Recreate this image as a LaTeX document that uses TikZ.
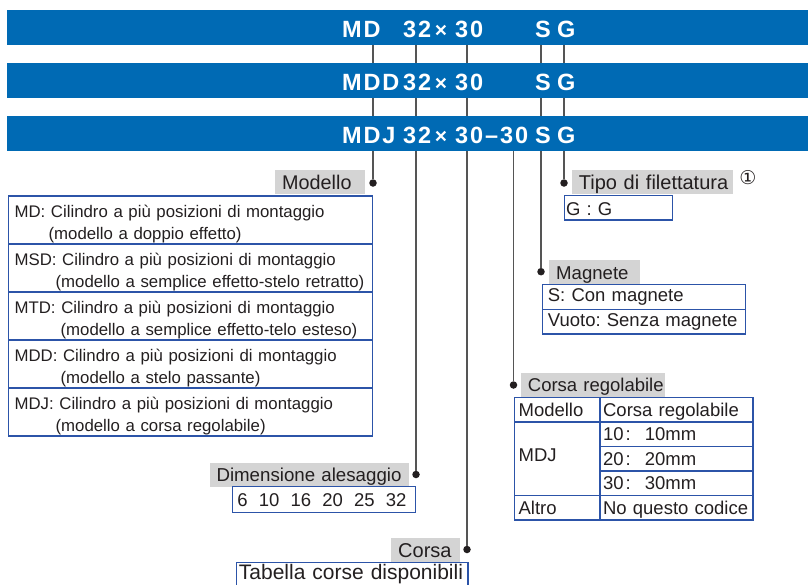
\documentclass[tikz,border=0pt]{standalone}
\usepackage{fontspec}
\setmainfont{Liberation Sans}
\newfontfamily\bandfont[LetterSpace=8]{Liberation Sans}
\newfontfamily\symfont{DejaVu Sans}
\usetikzlibrary{positioning}
\definecolor{bandblue}{RGB}{0,106,180}
\definecolor{boxblue}{RGB}{44,84,168}
\definecolor{lgray}{RGB}{212,212,212}
\definecolor{txt}{RGB}{35,31,32}
\definecolor{leadgray}{RGB}{85,85,85}
\frenchspacing

\begin{document}
\begin{tikzpicture}[x=1pt,y=-1pt]
\tikzset{band/.style={fill=bandblue,inner sep=0pt,minimum width=801pt,minimum height=35pt,anchor=north west},
code/.style={font=\bandfont\bfseries\fontsize{23.5}{23.5}\selectfont,text=white,inner sep=0pt,anchor=base west},
times/.style={font=\bfseries\fontsize{21}{21}\selectfont,text=white,inner sep=0pt,anchor=base},
dot/.style={fill=txt,circle,inner sep=0pt,minimum size=7.5pt},
lead/.style={draw=leadgray,line width=1.3pt},
lbl/.style={fill=lgray,text=txt,inner xsep=7pt,inner ysep=0pt,text height=19pt,text depth=5pt,align=left,anchor=base west,font=\fontsize{#1}{22}\selectfont},
lbl/.default=19,
cell/.style={draw=boxblue,line width=1.2pt,text=txt,inner ysep=0pt,align=left,anchor=base west,font=\fontsize{18.5}{22}\selectfont}}
\useasboundingbox (0,0) rectangle (808,584);

\node[band] (band1) at (7,10) {};
\node[band] (band2) at (7,63) {};
\node[band] (band3) at (7,116) {};

\foreach \t/\x [count=\i] in {MD/342,32/403,30/455,S/535,G/557}
\node[code] (ra\i) at (\x,37.5) {\t};
\foreach \t/\x [count=\i] in {MDD/342,32/403,30/455,S/535,G/557}
\node[code] (rb\i) at (\x,90.5) {\t};
\foreach \t/\x [count=\i] in {MDJ/342,32/403,30/455,–30/485,S/535,G/557}
\node[code] (rc\i) at (\x,143.5) {\t};
\foreach \y [count=\i] in {37.5,90.5,143.5}
\node[times] (x\i) at (441,\y) {×};

\node[dot] (dModello) at (373,183) {};
\node[dot] (dTipo) at (564,183) {};
\node[dot] (dMagnete) at (541,271.7) {};
\node[dot] (dRegola) at (513.5,385) {};
\node[dot] (dAlesaggio) at (416,474.5) {};
\node[dot] (dCorsa) at (467,549.5) {};

\foreach \d in {dModello,dAlesaggio,dCorsa,dMagnete,dTipo} {
\draw[lead] (band1.south -| \d) -- (band2.north -| \d);
\draw[lead] (band2.south -| \d) -- (band3.north -| \d); }
\foreach \d in {dModello,dAlesaggio,dCorsa,dRegola,dMagnete,dTipo}
\draw[lead] (band3.south -| \d) -- (\d);

\node[lbl=19.8,text width=76pt] (lModello) at (275,189.3) {\mbox{Modello}};
\node[lbl=20,text width=147pt] (lTipo) at (571.7,189.3) {\mbox{Tipo di filettatura}};
\node[lbl=18.6,text width=77pt] (lMagnete) at (549,279) {\mbox{Magnete}};
\node[lbl=18.5,text width=130.3pt] (lRegola) at (520.7,391.7) {\mbox{Corsa regolabile}};
\node[lbl=18.7,text width=185pt] (lAlesaggio) at (209.3,481.7) {\mbox{Dimensione alesaggio}};
\node[lbl=20,text width=55pt] (lCorsa) at (391,557.3) {\mbox{Corsa}};
\node[font=\symfont\fontsize{19}{19}\selectfont,text=txt,inner sep=0pt] (nota) at (748,177.5) {①};

\foreach \head/\tail/\ind [count=\i] in {
{MD: Cilindro a più posizioni di montaggio}/{(modello a doppio effetto)}/34,
{MSD: Cilindro a più posizioni di montaggio}/{(modello a semplice effetto-stelo retratto)}/41,
{MTD: Cilindro a più posizioni di montaggio}/{(modello a semplice effetto-telo esteso)}/46,
{MDD: Cilindro a più posizioni di montaggio}/{(modello a stelo passante)}/46,
{MDJ: Cilindro a più posizioni di montaggio}/{(modello a corsa regolabile)}/41}
\node[cell,font=\fontsize{16.8}{22}\selectfont,inner xsep=6pt,text width=351.7pt,text height=21.5pt,text depth=26.5pt] (mod\i) at (8,{217.5+48*(\i-1)}) {\mbox{\head}\\\hspace*{\ind pt}\mbox{\tail}};

\node[cell,inner xsep=1.5pt,text width=105pt,text height=19.3pt,text depth=5pt] (tipoG) at (564,215) {\mbox{G : G}};

\node[cell,inner xsep=5.6pt,text width=192pt,text height=17.4pt,text depth=7.6pt] (magS) at (541.7,301.7) {\mbox{S: Con magnete}};
\node[cell,inner xsep=5.6pt,text width=192pt,text height=17.4pt,text depth=7.3pt] (magV) at (541.7,326.7) {\mbox{Vuoto: Senza magnete}};

\node[cell,inner xsep=4pt,text width=77.3pt,text height=18.5pt,text depth=6pt] (rgHead1) at (514,416) {\mbox{Modello}};
\node[cell,inner xsep=3.2pt,text width=146.6pt,text height=18.5pt,text depth=6pt] (rgHead2) at (599.3,416) {\mbox{Corsa regolabile}};
\node[cell,inner xsep=4pt,text width=77.3pt,text height=39.7pt,text depth=33.8pt] (rgMDJ) at (514,461.7) {\mbox{MDJ}};
\foreach \v [count=\i] in {10,20,30}
\node[cell,inner xsep=3.2pt,text width=146.6pt,text height=18.5pt,text depth=6pt] (rg\v) at (599.3,{440.5+24.5*(\i-1)}) {\mbox{\v\hspace{2pt}:\hspace{14pt}\v mm}};
\node[cell,inner xsep=4pt,text width=77.3pt,text height=18.5pt,text depth=6pt] (rgAltro) at (514,514) {\mbox{Altro}};
\node[cell,inner xsep=3.2pt,text width=146.6pt,text height=18.5pt,text depth=6pt] (rgNo) at (599.3,514) {\mbox{No questo codice}};

\node[cell,inner xsep=5pt,text width=173.3pt,text height=20pt,text depth=6pt] (alesaggi) at (231.7,506.7) {\mbox{6\hspace{11.2pt}10\hspace{11.2pt}16\hspace{11.2pt}20\hspace{11.2pt}25\hspace{11.2pt}32}};
\node[cell,font=\fontsize{21}{22}\selectfont,inner xsep=2.6pt,text width=226.4pt,text height=17.2pt,text depth=12pt] (corse) at (235.7,579.5) {\mbox{Tabella corse disponibili}};

\end{tikzpicture}
\end{document}
